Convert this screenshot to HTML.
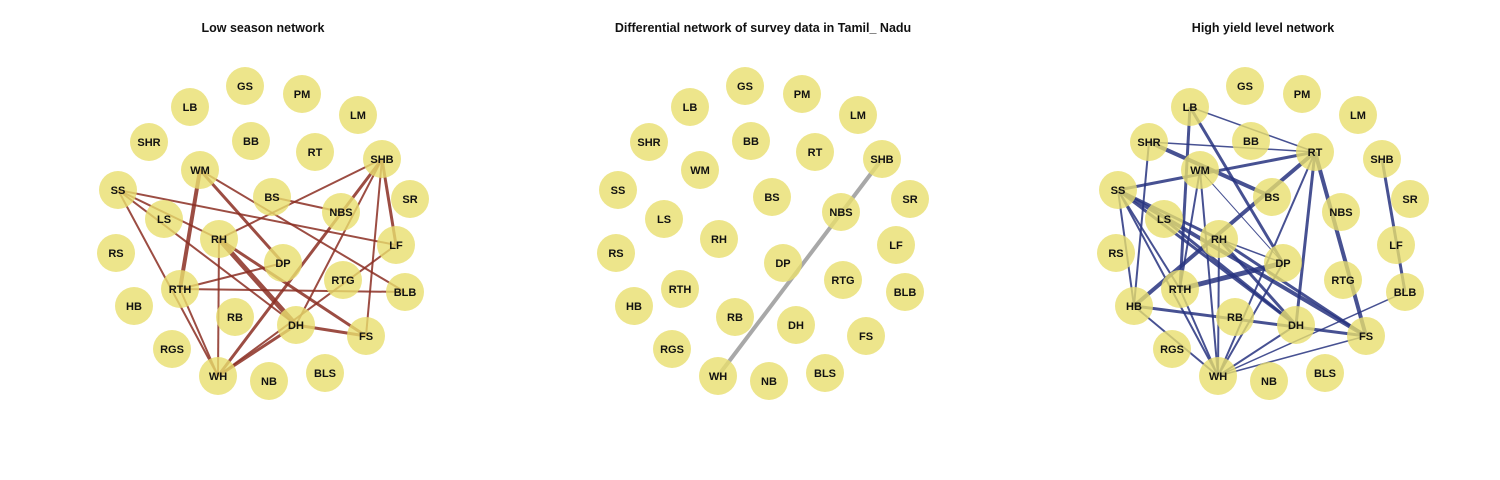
<!DOCTYPE html>
<html><head><meta charset="utf-8">
<style>
html,body{margin:0;padding:0;background:#fff;}
svg{display:block;}
text{font-family:"Liberation Sans",sans-serif;font-weight:bold;}
</style></head>
<body>
<svg id="chart" width="1500" height="480"></svg>
<script>
const nodeNames = ["GS","PM","LB","LM","SHR","BB","RT","SHB","WM","SS","BS","SR","NBS","LS","RH","LF","RS","DP","RTG","BLB","RTH","HB","RB","DH","FS","RGS","WH","NB","BLS"];
const nodeX = [245,302,190,358,149,251,315,382,200,118,272,410,341,164,219,396,116,283,343,405,180,134,235,296,366,172,218,269,325];
const nodeY = [86,94,107,115,142,141,152,159,170,190,197,199,212,219,239,245,253,263,280,292,289,306,317,325,336,349,376,381,373];
const panelTitles = ["Low season network","Differential network of survey data in Tamil_ Nadu","High yield level network"];
const panelOffsets = [0,500,1000];
const panelColors = ["#8b2e22","#999999","#27327f"];
// edges: [from, to, weight]
const edgesLow = [["WM","RTH",4],["WM","DP",3],["WM","BLB",2],["SS","LF",2],["SS","RH",2],["SS","WH",2],["SS","DH",2],["SHB","RH",2],["BS","NBS",2],["SHB","WH",3],["SHB","DH",2],["SHB","FS",2],["SHB","LF",3],["RH","WH",2],["RH","DH",5],["RH","FS",3],["RTH","DP",2],["RTH","BLB",2],["RTH","WH",2],["DH","FS",3],["DH","WH",3],["LF","WH",2]];
const edgesDiff = [["SHB","WH",4]];
const edgesHigh = [["LB","RT",1.5],["SHR","RT",1.5],["SHR","BS",4],["SS","RT",3],["LB","RTH",3],["LB","DP",3],["SHR","HB",2],["WM","RTH",2],["WM","WH",2],["WM","DP",1],["RT","HB",4],["RT","DH",3],["RT","FS",4],["RT","WH",2],["SS","HB",2],["SS","WH",2],["SS","RTH",2],["SS","DH",3],["SS","FS",4],["SS","RH",3],["RH","WH",2],["RH","DP",1.5],["RH","FS",3],["RH","DH",3],["RTH","DP",5],["HB","FS",3],["HB","WH",2],["RTH","WH",2],["DH","WH",2],["FS","WH",1.5],["BLB","WH",1.5],["DP","WH",2],["SHB","BLB",3],["LS","DH",3]];
const panelEdges = [edgesLow, edgesDiff, edgesHigh];

const NS = "http://www.w3.org/2000/svg";
const svg = document.getElementById("chart");
function idx(n){return nodeNames.indexOf(n);}
function px(i,off){return nodeX[i]+off;}
function py(i){return nodeY[i];}

panelTitles.forEach((t,p)=>{
  const off = panelOffsets[p];
  const g = document.createElementNS(NS,"g");
  
  
  svg.appendChild(g);
  const title = document.createElementNS(NS,"text");
  
  
  title.setAttribute("x", 263+off);
  title.setAttribute("y", 32);
  title.setAttribute("text-anchor","middle");
  title.setAttribute("font-size","12.5");
  title.setAttribute("fill","#111");
  title.textContent = t;
  g.appendChild(title);
  panelEdges[p].forEach(e=>{
    const a=idx(e[0]), b=idx(e[1]);
    const l=document.createElementNS(NS,"line");
    
    
    l.setAttribute("x1",px(a,off));l.setAttribute("y1",py(a));
    l.setAttribute("x2",px(b,off));l.setAttribute("y2",py(b));
    l.setAttribute("stroke",panelColors[p]);
    l.setAttribute("stroke-opacity","0.85");
    l.setAttribute("stroke-width",e[2]);
    g.appendChild(l);
  });
  nodeNames.forEach((n,i)=>{
    const c=document.createElementNS(NS,"circle");
    
    
    c.setAttribute("cx",px(i,off));c.setAttribute("cy",py(i));
    c.setAttribute("r",19);
    c.setAttribute("fill","rgba(232,222,110,0.8)");
    g.appendChild(c);
    const tx=document.createElementNS(NS,"text");
    
    
    tx.setAttribute("x",px(i,off));tx.setAttribute("y",py(i)+4);
    tx.setAttribute("text-anchor","middle");
    tx.setAttribute("font-size","11");
    tx.setAttribute("fill","#111");
    tx.textContent=n;
    g.appendChild(tx);
  });
});
</script>
</body></html>
